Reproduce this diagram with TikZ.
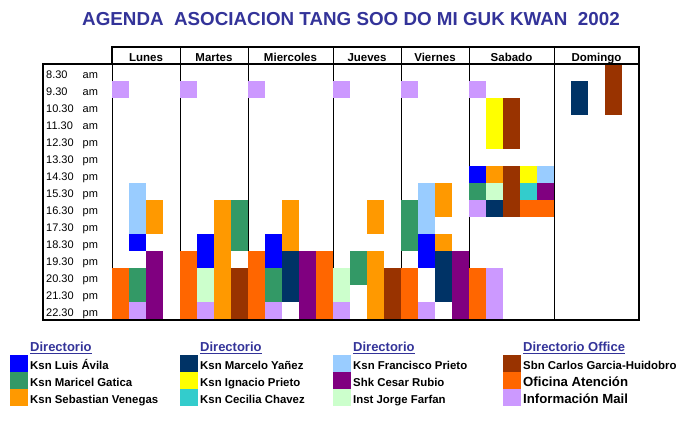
\documentclass[tikz,border=0pt]{standalone}
\usepackage{fontspec}
\setmainfont{Liberation Sans}
\usepackage{tikz}
\definecolor{titleblue}{HTML}{333399}
\definecolor{luis}{HTML}{0000FF}
\definecolor{maricel}{HTML}{339966}
\definecolor{sebastian}{HTML}{FF9900}
\definecolor{marcelo}{HTML}{003366}
\definecolor{ignacio}{HTML}{FFFF00}
\definecolor{cecilia}{HTML}{33CCCC}
\definecolor{francisco}{HTML}{99CCFF}
\definecolor{cesar}{HTML}{800080}
\definecolor{jorge}{HTML}{CCFFCC}
\definecolor{carlos}{HTML}{993300}
\definecolor{oficina}{HTML}{FF6600}
\definecolor{mail}{HTML}{CC99FF}
\tikzset{gridframe/.style={line width=2pt}}
\tikzset{daysep/.style={line width=1pt}}
\tikzset{title/.style={font=\fontsize{18.8}{22}\selectfont\bfseries, text=titleblue, anchor=base, inner sep=0pt}}
\tikzset{day/.style={font=\fontsize{11.5}{14}\selectfont\bfseries, anchor=base, inner sep=0pt}}
\tikzset{hour/.style={font=\fontsize{11}{13}\selectfont, anchor=base west, inner sep=0pt}}
\tikzset{dirhead/.style={font=\fontsize{13}{15}\selectfont\bfseries, text=titleblue, anchor=base west, inner sep=0pt}}
\tikzset{person/.style={font=\fontsize{11.4}{13}\selectfont\bfseries, anchor=base west, inner sep=0pt}}
\tikzset{office/.style={font=\fontsize{13.2}{15}\selectfont\bfseries, anchor=base west, inner sep=0pt}}
\tikzset{LA/.style={fill=luis}}
\tikzset{MG/.style={fill=maricel}}
\tikzset{SV/.style={fill=sebastian}}
\tikzset{MY/.style={fill=marcelo}}
\tikzset{IP/.style={fill=ignacio}}
\tikzset{CC/.style={fill=cecilia}}
\tikzset{FP/.style={fill=francisco}}
\tikzset{CR/.style={fill=cesar}}
\tikzset{JF/.style={fill=jorge}}
\tikzset{CG/.style={fill=carlos}}
\tikzset{OA/.style={fill=oficina}}
\tikzset{IM/.style={fill=mail}}

\begin{document}
\begin{tikzpicture}[x=1pt, y=-1pt]
\useasboundingbox (0,0) rectangle (695,424);
\node[title] (title) at (351,25) {AGENDA\ \ ASOCIACION TANG SOO DO MI GUK KWAN\ \ 2002};
% day columns
\draw[daysep] (112,64) to (112,320);
\draw[daysep] (180,47) to (180,320);
\draw[daysep] (248,47) to (248,320);
\draw[daysep] (333,47) to (333,320);
\draw[daysep] (401,47) to (401,320);
\draw[daysep] (469,47) to (469,320);
\draw[daysep] (554,47) to (554,320);
\node[day] (lun) at (146,61) {Lunes};
\node[day] (mar) at (214,61) {Martes};
\node[day] (mie) at (290.5,61) {Miercoles};
\node[day] (jue) at (367,61) {Jueves};
\node[day] (vie) at (435,61) {Viernes};
\node[day] (sab) at (511.5,61) {Sabado};
\node[day] (dom) at (596.5,61) {Domingo};
% hours
\node[hour] (h8) at (46,78) {\makebox[36.5pt][l]{8.30}am};
\node[hour] (h9) at (46,95) {\makebox[36.5pt][l]{9.30}am};
\node[hour] (h10) at (46,112) {\makebox[36.5pt][l]{10.30}am};
\node[hour] (h11) at (46,129) {\makebox[36.5pt][l]{11.30}am};
\node[hour] (h12) at (46,146) {\makebox[36.5pt][l]{12.30}pm};
\node[hour] (h13) at (46,163) {\makebox[36.5pt][l]{13.30}pm};
\node[hour] (h14) at (46,180) {\makebox[36.5pt][l]{14.30}pm};
\node[hour] (h15) at (46,197) {\makebox[36.5pt][l]{15.30}pm};
\node[hour] (h16) at (46,214) {\makebox[36.5pt][l]{16.30}pm};
\node[hour] (h17) at (46,231) {\makebox[36.5pt][l]{17.30}pm};
\node[hour] (h18) at (46,248) {\makebox[36.5pt][l]{18.30}pm};
\node[hour] (h19) at (46,265) {\makebox[36.5pt][l]{19.30}pm};
\node[hour] (h20) at (46,282) {\makebox[36.5pt][l]{20.30}pm};
\node[hour] (h21) at (46,299) {\makebox[36.5pt][l]{21.30}pm};
\node[hour] (h22) at (46,316) {\makebox[36.5pt][l]{22.30}pm};
% slots, one unit per sub-column and hour
\begin{scope}[shift={(112,64)}, x=17pt, y=-17pt]
% Lunes
\fill[IM] (0,1) rectangle (1,2);
\fill[FP] (1,7) rectangle (2,10);
\fill[LA] (1,10) rectangle (2,11);
\fill[SV] (2,8) rectangle (3,10);
\fill[CR] (2,11) rectangle (3,15);
\fill[OA] (0,12) rectangle (1,15);
\fill[MG] (1,12) rectangle (2,14);
\fill[IM] (1,14) rectangle (2,15);
% Martes
\fill[IM] (4,1) rectangle (5,2);
\fill[OA] (4,11) rectangle (5,15);
\fill[LA] (5,10) rectangle (6,12);
\fill[JF] (5,12) rectangle (6,14);
\fill[IM] (5,14) rectangle (6,15);
\fill[SV] (6,8) rectangle (7,15);
\fill[MG] (7,8) rectangle (8,11);
\fill[CG] (7,12) rectangle (8,15);
% Miercoles
\fill[IM] (8,1) rectangle (9,2);
\fill[OA] (8,11) rectangle (9,15);
\fill[LA] (9,10) rectangle (10,12);
\fill[MG] (9,12) rectangle (10,14);
\fill[IM] (9,14) rectangle (10,15);
\fill[SV] (10,8) rectangle (11,11);
\fill[MY] (10,11) rectangle (11,14);
\fill[CR] (11,11) rectangle (12,15);
\fill[OA] (12,11) rectangle (13,15);
% Jueves
\fill[IM] (13,1) rectangle (14,2);
\fill[JF] (13,12) rectangle (14,14);
\fill[IM] (13,14) rectangle (14,15);
\fill[MG] (14,11) rectangle (15,13);
\fill[SV] (15,8) rectangle (16,10);
\fill[SV] (15,11) rectangle (16,15);
\fill[CG] (16,12) rectangle (17,15);
% Viernes
\fill[IM] (17,1) rectangle (18,2);
\fill[MG] (17,8) rectangle (18,11);
\fill[OA] (17,12) rectangle (18,15);
\fill[FP] (18,7) rectangle (19,10);
\fill[LA] (18,10) rectangle (19,12);
\fill[IM] (18,14) rectangle (19,15);
\fill[SV] (19,7) rectangle (20,9);
\fill[SV] (19,10) rectangle (20,11);
\fill[MY] (19,11) rectangle (20,14);
\fill[CR] (20,11) rectangle (21,15);
% Sabado
\fill[IM] (21,1) rectangle (22,2);
\fill[IP] (22,2) rectangle (23,5);
\fill[CG] (23,2) rectangle (24,5);
\fill[LA] (21,6) rectangle (22,7);
\fill[MG] (21,7) rectangle (22,8);
\fill[IM] (21,8) rectangle (22,9);
\fill[SV] (22,6) rectangle (23,7);
\fill[JF] (22,7) rectangle (23,8);
\fill[MY] (22,8) rectangle (23,9);
\fill[CG] (23,6) rectangle (24,9);
\fill[IP] (24,6) rectangle (25,7);
\fill[CC] (24,7) rectangle (25,8);
\fill[FP] (25,6) rectangle (26,7);
\fill[CR] (25,7) rectangle (26,8);
\fill[OA] (24,8) rectangle (26,9);
\fill[OA] (21,12) rectangle (22,15);
\fill[IM] (22,12) rectangle (23,15);
% Domingo
\fill[MY] (27,1) rectangle (28,3);
\fill[CG] (29,0) rectangle (30,3);
\end{scope}
\draw[gridframe] (112,64) |- (639,47) |- (43,320) |- (639,64);
% legend
\node[dirhead] (dir1) at (30,351.5) {\underline{Directorio}};
\fill[LA] (10,355) rectangle (28,372);
\fill[MG] (10,372) rectangle (28,389);
\fill[SV] (10,389) rectangle (28,406);
\node[person] (la) at (30,369) {Ksn Luis Ávila};
\node[person] (mg) at (30,386) {Ksn Maricel Gatica};
\node[person] (sv) at (30,403) {Ksn Sebastian Venegas};
\node[dirhead] (dir2) at (200,351.5) {\underline{Directorio}};
\fill[MY] (180,355) rectangle (198,372);
\fill[IP] (180,372) rectangle (198,389);
\fill[CC] (180,389) rectangle (198,406);
\node[person] (my) at (200,369) {Ksn Marcelo Yañez};
\node[person] (ip) at (200,386) {Ksn Ignacio Prieto};
\node[person] (cc) at (200,403) {Ksn Cecilia Chavez};
\node[dirhead] (dir3) at (353,351.5) {\underline{Directorio}};
\fill[FP] (333,355) rectangle (351,372);
\fill[CR] (333,372) rectangle (351,389);
\fill[JF] (333,389) rectangle (351,406);
\node[person] (fp) at (353,369) {Ksn Francisco Prieto};
\node[person] (cr) at (353,386) {Shk Cesar Rubio};
\node[person] (jf) at (353,403) {Inst Jorge Farfan};
\node[dirhead] (dir4) at (523,351.5) {\underline{Directorio Office}};
\fill[CG] (503,355) rectangle (521,372);
\fill[OA] (503,372) rectangle (521,389);
\fill[IM] (503,389) rectangle (521,406);
\node[person] (cg) at (523,369) {Sbn Carlos Garcia-Huidobro};
\node[office] (oa) at (523,386.5) {Oficina Atención};
\node[office] (im) at (523,403) {Información Mail};
\end{tikzpicture}
\end{document}
